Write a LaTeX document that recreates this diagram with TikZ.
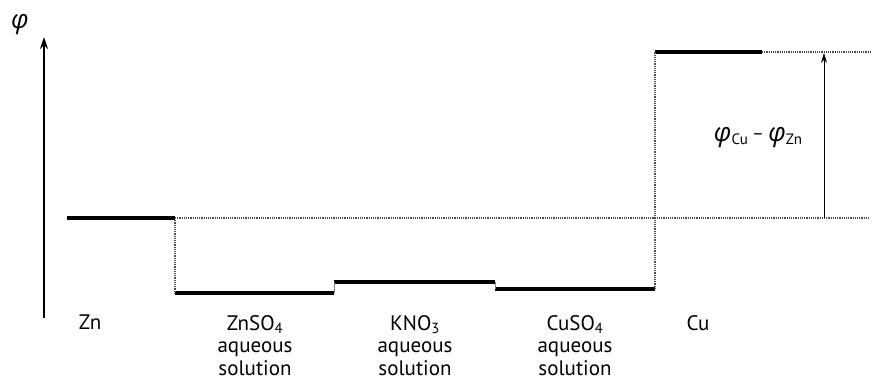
\documentclass[tikz,border=0pt]{standalone}
\usepackage{fontspec}
\setmainfont{PT Sans}
\newfontfamily\greekfont{Open Sans}
\newcommand{\phisym}{{\greekfont\itshape φ}}
\newcommand{\lowsub}[1]{\raisebox{-3pt}{\fontsize{15}{15}\selectfont #1}}
\usepackage{tikz}
\usetikzlibrary{arrows.meta, positioning}

\begin{document}
\begin{tikzpicture}[
    x=1pt, y=-1pt,
    level/.style={line width=4pt},
    guide/.style={densely dotted, line width=1.2pt, black!70},
    riser/.style={line width=0.8pt, black!50},
    region/.style={align=center, font=\fontsize{21}{22.5}\selectfont, anchor=north, inner sep=0pt},
]
\useasboundingbox (0,0) rectangle (873,380);

% Axis
\coordinate (axis-bot) at (44,318);
\coordinate (axis-top) at (44,37);
\draw[line width=1.5pt, -{Stealth[length=12pt, width=8pt]}] (axis-bot) -- (axis-top);
\node[font=\fontsize{26}{26}\selectfont, inner sep=0pt] (phi) at (20,25) {\phisym};

% Potential levels
\coordinate (zn-l) at (67,218);   \coordinate (zn-r) at (175,218);
\coordinate (zs-l) at (175,293);  \coordinate (zs-r) at (334,293);
\coordinate (kn-l) at (334,282);  \coordinate (kn-r) at (495,282);
\coordinate (cs-l) at (495,289);  \coordinate (cs-r) at (655,289);
\coordinate (cu-l) at (655,52);   \coordinate (cu-r) at (762,52);
\coordinate (ref-r) at (870,218);
\coordinate (top-r) at (870,52);

\draw[level] (zn-l) -- (zn-r);
\draw[level] (zs-l) -- (zs-r);
\draw[level] (kn-l) -- (kn-r);
\draw[level] (cs-l) -- (cs-r);
\draw[level] (cu-l) -- (cu-r);

% Steps between levels
\draw[guide] (zn-r) -- (zs-l);
\draw[riser] (zs-r) -- (kn-l);
\draw[riser] (kn-r) -- (cs-l);
\draw[guide] (cs-r) -- (cu-l);
\draw[guide] (zn-r) -- (ref-r);
\draw[guide] (cu-r) -- (top-r);

% Potential difference
\coordinate (diff-bot) at (824,218);
\coordinate (diff-top) at (824,53);
\draw[line width=0.9pt, -{Stealth[length=10pt, width=6pt]}] (diff-bot) -- (diff-top);
\node[font=\fontsize{26}{26}\selectfont, inner sep=0pt] (diff) at (758,138)
    {\phisym\lowsub{Cu}\,\raisebox{2pt}{\fontsize{18}{18}\selectfont –}\,\phisym\lowsub{Zn}};

% Region labels
\node[region] (lab-zn) at (90,315) {Zn};
\node[region] (lab-zs) at (255,315) {ZnSO\textsubscript{4}\\aqueous\\solution};
\node[region] (lab-kn) at (415,315) {KNO\textsubscript{3}\\aqueous\\solution};
\node[region] (lab-cs) at (575,315) {CuSO\textsubscript{4}\\aqueous\\solution};
\node[region] (lab-cu) at (698,315) {Cu};

\end{tikzpicture}
\end{document}
